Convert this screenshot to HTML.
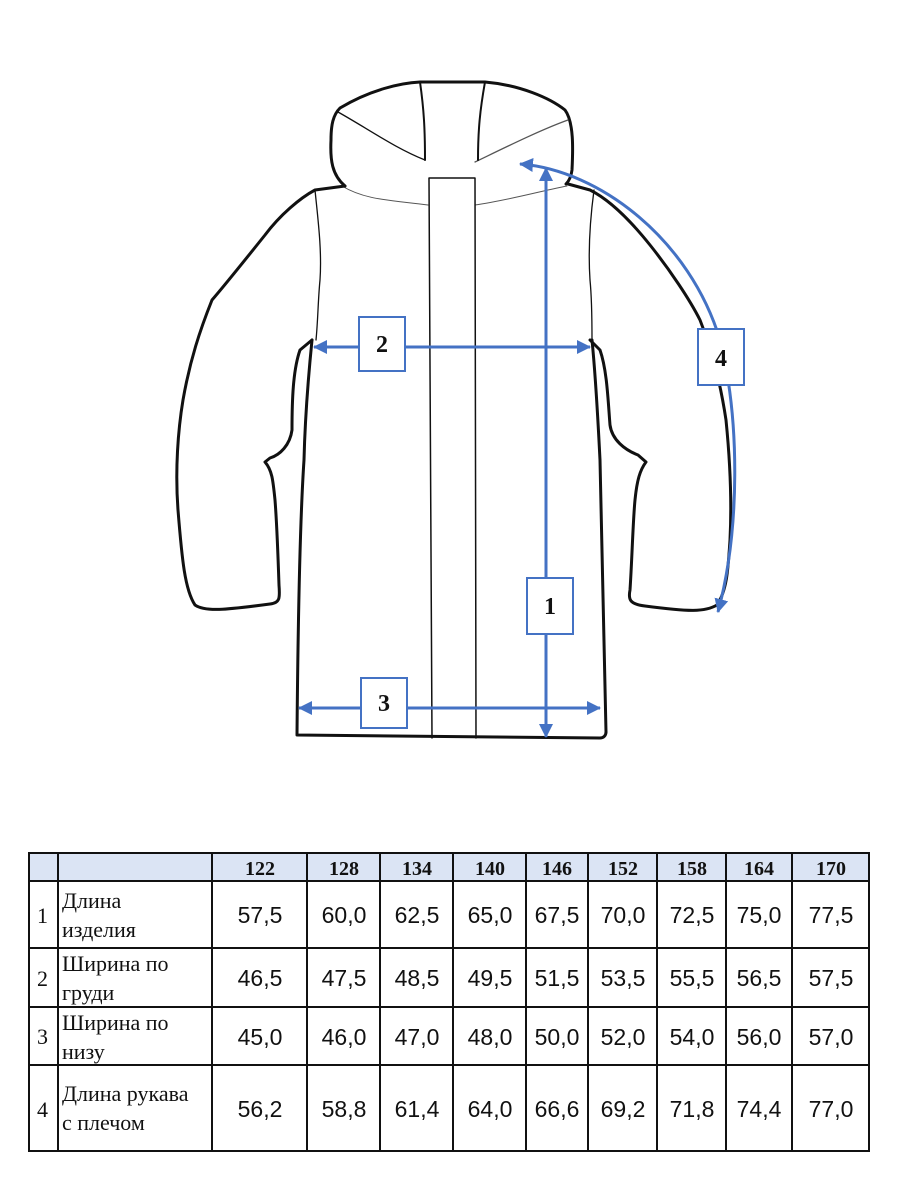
<!DOCTYPE html>
<html><head><meta charset="utf-8"><style>
body{margin:0;width:900px;height:1200px;background:#fff;position:relative;overflow:hidden}
svg{position:absolute;left:0;top:0}
</style></head><body>
<svg width="900" height="1200" viewBox="0 0 900 1200">
<defs>
<marker id="ah" markerWidth="16" markerHeight="16" refX="13" refY="7" orient="auto-start-reverse" markerUnits="userSpaceOnUse"><path d="M0,0 L14,7 L0,14 Z" fill="#4472c4"/></marker>
</defs>
<g fill="none" stroke="#111" stroke-linejoin="round" stroke-linecap="round">
<path stroke-width="3" d="M345,186 C332,175 330,160 331,140 C331,125 333,115 340,108 C370,90 400,83 420,82 L485,82 C520,85 550,98 565,110 C574,122 573,150 572,170 C571,178 568,182 566,184"/>
<path stroke-width="1.3" d="M338,112 C370,130 395,148 425,160"/>
<path stroke-width="1.3" stroke="#555" d="M568,120 C540,130 500,150 475,162"/>
<path stroke-width="2" d="M420,82 C424,110 425,130 425,160"/>
<path stroke-width="2" d="M485,82 C480,110 478,130 478,160"/>
<path stroke-width="1" stroke="#555" d="M342,186 C365,200 390,200 428,205"/>
<path stroke-width="1" stroke="#555" d="M475,205 C510,200 545,190 567,186"/>
<path stroke-width="1.5" d="M429,178 L475,178 M429,178 L432,738 M475,178 L476,738"/>
<path stroke-width="3" d="M345,186 L315,190 C300,198 280,215 265,235 C245,260 225,285 212,300 C200,330 190,360 183,400 C178,430 175,470 178,510 C182,560 185,590 195,605 C205,612 225,610 270,604 C280,603 280,598 279,585 C278,555 277,525 275,500 C273,480 272,470 265,462 L270,458 C280,455 290,445 292,430 C292,400 293,370 300,350 L312,340"/>
<path stroke-width="1.3" d="M315,190 C318,220 322,250 320,280 C318,300 318,320 316,340"/>
<path stroke-width="3" d="M312,340 C308,380 305,420 304,460 C300,520 298,620 297,735 L600,738 C603,738 606,736 606,732"/>
<path stroke-width="3" d="M568,184 L590,190 C610,200 630,220 650,245 C670,270 690,300 700,320 C710,345 720,380 726,420 C730,460 732,500 730,540 C728,570 727,590 717,605 C705,612 690,612 645,606 C630,604 628,600 630,590 C632,560 633,520 635,500 C637,480 640,470 646,462 L638,455 C625,450 612,440 610,425 C608,400 607,370 600,350 L590,340"/>
<path stroke-width="1.3" d="M594,190 C590,220 588,250 590,280 C592,300 592,320 592,340"/>
<path stroke-width="3" d="M592,340 C596,380 598,420 600,460 C602,520 604,620 606,732"/>
</g>
<g stroke="#4472c4" stroke-width="3" fill="none">
<line x1="546" y1="168" x2="546" y2="737" marker-end="url(#ah)" marker-start="url(#ah)"/>
<line x1="314" y1="347" x2="590" y2="347" marker-end="url(#ah)" marker-start="url(#ah)"/>
<line x1="299" y1="708" x2="600" y2="708" marker-end="url(#ah)" marker-start="url(#ah)"/>
<path d="M520,164 C600,170 690,240 720,340 C740,420 740,530 718,612" marker-end="url(#ah)" marker-start="url(#ah)"/>
</g>
<g fill="#fff" stroke="#4472c4" stroke-width="2">
<rect x="359" y="317" width="46" height="54"/>
<rect x="361" y="678" width="46" height="50"/>
<rect x="527" y="578" width="46" height="56"/>
<rect x="698" y="329" width="46" height="56"/>
</g>
<g font-family="Liberation Serif" font-weight="bold" font-size="24" text-anchor="middle" fill="#111">
<text x="382" y="352">2</text><text x="384" y="711">3</text><text x="550" y="614">1</text><text x="721" y="366">4</text>
</g>
<rect x="29" y="853" width="840" height="28" fill="#dbe4f4"/>
<g stroke="#111" stroke-width="2" fill="none">
<rect x="29" y="853" width="840" height="298"/>
<path d="M29,881H869M29,948H869M29,1007H869M29,1065H869"/>
<path d="M58,853V1151M212,853V1151M307,853V1151M380,853V1151M453,853V1151M526,853V1151M588,853V1151M657,853V1151M726,853V1151M792,853V1151"/>
</g>
<g font-family="Liberation Serif" font-weight="bold" font-size="20" text-anchor="middle" fill="#111">
<text x="260" y="875">122</text><text x="344" y="875">128</text><text x="417" y="875">134</text><text x="490" y="875">140</text><text x="557" y="875">146</text><text x="623" y="875">152</text><text x="692" y="875">158</text><text x="759" y="875">164</text><text x="831" y="875">170</text>
</g>
<g font-family="Liberation Serif" font-size="22" fill="#111">
<text x="37" y="923">1</text><text x="37" y="986">2</text><text x="37" y="1044">3</text><text x="37" y="1117">4</text>
<text x="62" y="908">Длина</text><text x="62" y="937">изделия</text>
<text x="62" y="971">Ширина по</text><text x="62" y="1000">груди</text>
<text x="62" y="1030">Ширина по</text><text x="62" y="1059">низу</text>
<text x="62" y="1101">Длина рукава</text><text x="62" y="1130">с плечом</text>
</g>
<g font-family="Liberation Sans" font-size="23" text-anchor="middle" fill="#111">
<text x="260" y="923">57,5</text><text x="344" y="923">60,0</text><text x="417" y="923">62,5</text><text x="490" y="923">65,0</text><text x="557" y="923">67,5</text><text x="623" y="923">70,0</text><text x="692" y="923">72,5</text><text x="759" y="923">75,0</text><text x="831" y="923">77,5</text>
<text x="260" y="986">46,5</text><text x="344" y="986">47,5</text><text x="417" y="986">48,5</text><text x="490" y="986">49,5</text><text x="557" y="986">51,5</text><text x="623" y="986">53,5</text><text x="692" y="986">55,5</text><text x="759" y="986">56,5</text><text x="831" y="986">57,5</text>
<text x="260" y="1045">45,0</text><text x="344" y="1045">46,0</text><text x="417" y="1045">47,0</text><text x="490" y="1045">48,0</text><text x="557" y="1045">50,0</text><text x="623" y="1045">52,0</text><text x="692" y="1045">54,0</text><text x="759" y="1045">56,0</text><text x="831" y="1045">57,0</text>
<text x="260" y="1117">56,2</text><text x="344" y="1117">58,8</text><text x="417" y="1117">61,4</text><text x="490" y="1117">64,0</text><text x="557" y="1117">66,6</text><text x="623" y="1117">69,2</text><text x="692" y="1117">71,8</text><text x="759" y="1117">74,4</text><text x="831" y="1117">77,0</text>
</g>
</svg>
</body></html>
